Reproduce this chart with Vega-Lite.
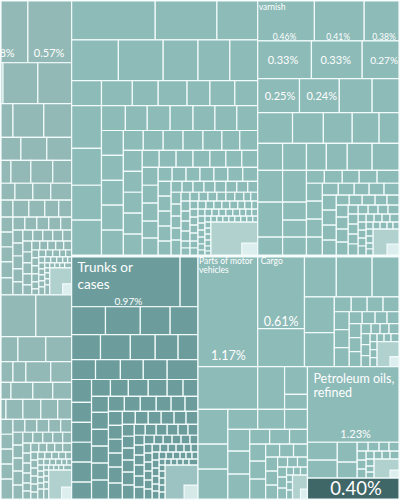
{
"$schema": "https://vega.github.io/schema/vega-lite/v6.json",
"width": 400, "height": 500,
"autosize": {"type": "fit", "contains": "padding"},
"padding": 0,
"background": "#ffffff",
"config": {"view": {"stroke": null}, "text": {"font": "Lato", "color": "#ffffff", "align": "left", "baseline": "middle"}},
"datasets": {
"lab": [
{"x":-17,"y":53,"t":"0.58%","k":"s"},
{"x":33,"y":53,"t":"0.57%","k":"s"},
{"x":259,"y":6,"t":"varnish","k":"xs"},
{"x":273,"y":36,"t":"0.46%","k":"xs"},
{"x":327,"y":36,"t":"0.41%","k":"xs"},
{"x":373,"y":36,"t":"0.38%","k":"xs"},
{"x":268,"y":60,"t":"0.33%","k":"s"},
{"x":321,"y":60,"t":"0.33%","k":"s"},
{"x":371,"y":60,"t":"0.27%","k":"r"},
{"x":265,"y":96,"t":"0.25%","k":"s"},
{"x":307,"y":96,"t":"0.24%","k":"s"},
{"x":77,"y":268,"t":"Trunks or","k":"l"},
{"x":77,"y":285,"t":"cases","k":"l"},
{"x":114,"y":302,"t":"0.97%","k":"r"},
{"x":199,"y":261,"t":"Parts of motor","k":"xs"},
{"x":199,"y":270,"t":"vehicles","k":"xs"},
{"x":261,"y":261,"t":"Cargo","k":"xs"},
{"x":264,"y":322,"t":"0.61%","k":"m"},
{"x":211,"y":356,"t":"1.17%","k":"m"},
{"x":314,"y":380,"t":"Petroleum oils,","k":"m"},
{"x":314,"y":394,"t":"refined","k":"m"},
{"x":341,"y":436,"t":"1.23%","k":"s"},
{"x":331,"y":490,"t":"0.40%","k":"xl"}
]
},
"layer": [
{
"data": {"values": [
{"x0":0,"x1":27,"y0":0,"y1":62,"g":"a"},
{"x0":27,"x1":71,"y0":0,"y1":62,"g":"a"},
{"x0":0,"x1":2,"y0":62,"y1":103,"g":"a"},
{"x0":2,"x1":37,"y0":62,"y1":103,"g":"a"},
{"x0":37,"x1":71,"y0":62,"y1":103,"g":"a"},
{"x0":0,"x1":12,"y0":103,"y1":137,"g":"a"},
{"x0":12,"x1":43,"y0":103,"y1":137,"g":"a"},
{"x0":43,"x1":71,"y0":103,"y1":137,"g":"a"},
{"x0":0,"x1":20,"y0":137,"y1":160,"g":"a"},
{"x0":20,"x1":46,"y0":137,"y1":160,"g":"a"},
{"x0":46,"x1":71,"y0":137,"y1":160,"g":"a"},
{"x0":0,"x1":10,"y0":160,"y1":183,"g":"a"},
{"x0":10,"x1":30,"y0":160,"y1":183,"g":"a"},
{"x0":30,"x1":52,"y0":160,"y1":183,"g":"a"},
{"x0":52,"x1":71,"y0":160,"y1":183,"g":"a"},
{"x0":0,"x1":14,"y0":183,"y1":200,"g":"a"},
{"x0":14,"x1":32,"y0":183,"y1":200,"g":"a"},
{"x0":32,"x1":50,"y0":183,"y1":200,"g":"a"},
{"x0":50,"x1":71,"y0":183,"y1":200,"g":"a"},
{"x0":0,"x1":12,"y0":200,"y1":217,"g":"a"},
{"x0":12,"x1":28,"y0":200,"y1":217,"g":"a"},
{"x0":28,"x1":44,"y0":200,"y1":217,"g":"a"},
{"x0":44,"x1":58,"y0":200,"y1":217,"g":"a"},
{"x0":58,"x1":71,"y0":200,"y1":217,"g":"a"},
{"x0":0,"x1":12,"y0":217,"y1":232,"g":"a"},
{"x0":0,"x1":12,"y0":232,"y1":247,"g":"a"},
{"x0":0,"x1":12,"y0":247,"y1":262,"g":"a"},
{"x0":0,"x1":12,"y0":262,"y1":278,"g":"a"},
{"x0":0,"x1":12,"y0":278,"y1":295,"g":"a"},
{"x0":12,"x1":24,"y0":217,"y1":230,"g":"a"},
{"x0":24,"x1":36,"y0":217,"y1":230,"g":"a"},
{"x0":36,"x1":48,"y0":217,"y1":230,"g":"a"},
{"x0":48,"x1":60,"y0":217,"y1":230,"g":"a"},
{"x0":60,"x1":71,"y0":217,"y1":230,"g":"a"},
{"x0":12,"x1":22,"y0":230,"y1":243,"g":"a"},
{"x0":12,"x1":22,"y0":243,"y1":256,"g":"a"},
{"x0":12,"x1":22,"y0":256,"y1":269,"g":"a"},
{"x0":12,"x1":22,"y0":269,"y1":282,"g":"a"},
{"x0":12,"x1":22,"y0":282,"y1":295,"g":"a"},
{"x0":22,"x1":32,"y0":230,"y1":241,"g":"a"},
{"x0":32,"x1":42,"y0":230,"y1":241,"g":"a"},
{"x0":42,"x1":52,"y0":230,"y1":241,"g":"a"},
{"x0":52,"x1":62,"y0":230,"y1":241,"g":"a"},
{"x0":62,"x1":71,"y0":230,"y1":241,"g":"a"},
{"x0":22,"x1":31,"y0":241,"y1":252,"g":"a"},
{"x0":22,"x1":31,"y0":252,"y1":263,"g":"a"},
{"x0":22,"x1":31,"y0":263,"y1":274,"g":"a"},
{"x0":22,"x1":31,"y0":274,"y1":285,"g":"a"},
{"x0":22,"x1":31,"y0":285,"y1":295,"g":"a"},
{"x0":31,"x1":39,"y0":241,"y1":250,"g":"a"},
{"x0":39,"x1":47,"y0":241,"y1":250,"g":"a"},
{"x0":47,"x1":55,"y0":241,"y1":250,"g":"a"},
{"x0":55,"x1":63,"y0":241,"y1":250,"g":"a"},
{"x0":63,"x1":71,"y0":241,"y1":250,"g":"a"},
{"x0":31,"x1":38,"y0":250,"y1":258,"g":"a"},
{"x0":31,"x1":38,"y0":258,"y1":266,"g":"a"},
{"x0":31,"x1":38,"y0":266,"y1":274,"g":"a"},
{"x0":31,"x1":38,"y0":274,"y1":282,"g":"a"},
{"x0":31,"x1":38,"y0":282,"y1":289,"g":"a"},
{"x0":31,"x1":38,"y0":289,"y1":295,"g":"a"},
{"x0":38,"x1":45,"y0":250,"y1":257,"g":"a"},
{"x0":45,"x1":52,"y0":250,"y1":257,"g":"a"},
{"x0":52,"x1":59,"y0":250,"y1":257,"g":"a"},
{"x0":59,"x1":65,"y0":250,"y1":257,"g":"a"},
{"x0":65,"x1":71,"y0":250,"y1":257,"g":"a"},
{"x0":38,"x1":44,"y0":257,"y1":263,"g":"a"},
{"x0":38,"x1":44,"y0":263,"y1":269,"g":"a"},
{"x0":38,"x1":44,"y0":269,"y1":275,"g":"a"},
{"x0":38,"x1":44,"y0":275,"y1":281,"g":"a"},
{"x0":38,"x1":44,"y0":281,"y1":287,"g":"a"},
{"x0":38,"x1":44,"y0":287,"y1":295,"g":"a"},
{"x0":44,"x1":50,"y0":257,"y1":263,"g":"a"},
{"x0":50,"x1":56,"y0":257,"y1":263,"g":"a"},
{"x0":56,"x1":62,"y0":257,"y1":263,"g":"a"},
{"x0":62,"x1":67,"y0":257,"y1":263,"g":"a"},
{"x0":67,"x1":71,"y0":257,"y1":263,"g":"a"},
{"x0":44,"x1":49,"y0":263,"y1":268,"g":"a"},
{"x0":49,"x1":54,"y0":263,"y1":268,"g":"a"},
{"x0":54,"x1":59,"y0":263,"y1":268,"g":"a"},
{"x0":59,"x1":64,"y0":263,"y1":268,"g":"a"},
{"x0":64,"x1":71,"y0":263,"y1":268,"g":"a"},
{"x0":44,"x1":49,"y0":268,"y1":273,"g":"a"},
{"x0":44,"x1":49,"y0":273,"y1":279,"g":"a"},
{"x0":44,"x1":49,"y0":279,"y1":285,"g":"a"},
{"x0":44,"x1":49,"y0":285,"y1":295,"g":"a"},
{"x0":49,"x1":71,"y0":268,"y1":295,"g":"m1"},
{"x0":62,"x1":71,"y0":284,"y1":295,"g":"m2"},

{"x0":0,"x1":35,"y0":295,"y1":337,"g":"a"},
{"x0":35,"x1":71,"y0":295,"y1":337,"g":"a"},
{"x0":0,"x1":17,"y0":337,"y1":362,"g":"a"},
{"x0":17,"x1":45,"y0":337,"y1":362,"g":"a"},
{"x0":45,"x1":71,"y0":337,"y1":362,"g":"a"},
{"x0":0,"x1":12,"y0":362,"y1":383,"g":"a"},
{"x0":12,"x1":25,"y0":362,"y1":383,"g":"a"},
{"x0":25,"x1":50,"y0":362,"y1":383,"g":"a"},
{"x0":50,"x1":71,"y0":362,"y1":383,"g":"a"},
{"x0":0,"x1":10,"y0":383,"y1":400,"g":"a"},
{"x0":10,"x1":32,"y0":383,"y1":400,"g":"a"},
{"x0":32,"x1":52,"y0":383,"y1":400,"g":"a"},
{"x0":52,"x1":71,"y0":383,"y1":400,"g":"a"},
{"x0":0,"x1":5,"y0":400,"y1":420,"g":"a"},
{"x0":5,"x1":22,"y0":400,"y1":420,"g":"a"},
{"x0":22,"x1":40,"y0":400,"y1":420,"g":"a"},
{"x0":40,"x1":57,"y0":400,"y1":420,"g":"a"},
{"x0":57,"x1":71,"y0":400,"y1":420,"g":"a"},
{"x0":0,"x1":12,"y0":420,"y1":435,"g":"a"},
{"x0":0,"x1":12,"y0":435,"y1":450,"g":"a"},
{"x0":0,"x1":12,"y0":450,"y1":465,"g":"a"},
{"x0":0,"x1":12,"y0":465,"y1":480,"g":"a"},
{"x0":0,"x1":12,"y0":480,"y1":500,"g":"a"},
{"x0":12,"x1":24,"y0":420,"y1":433,"g":"a"},
{"x0":24,"x1":36,"y0":420,"y1":433,"g":"a"},
{"x0":36,"x1":48,"y0":420,"y1":433,"g":"a"},
{"x0":48,"x1":60,"y0":420,"y1":433,"g":"a"},
{"x0":60,"x1":71,"y0":420,"y1":433,"g":"a"},
{"x0":12,"x1":22,"y0":433,"y1":446,"g":"a"},
{"x0":12,"x1":22,"y0":446,"y1":459,"g":"a"},
{"x0":12,"x1":22,"y0":459,"y1":472,"g":"a"},
{"x0":12,"x1":22,"y0":472,"y1":486,"g":"a"},
{"x0":12,"x1":22,"y0":486,"y1":500,"g":"a"},
{"x0":22,"x1":32,"y0":433,"y1":444,"g":"a"},
{"x0":32,"x1":42,"y0":433,"y1":444,"g":"a"},
{"x0":42,"x1":52,"y0":433,"y1":444,"g":"a"},
{"x0":52,"x1":62,"y0":433,"y1":444,"g":"a"},
{"x0":62,"x1":71,"y0":433,"y1":444,"g":"a"},
{"x0":22,"x1":30,"y0":444,"y1":454,"g":"a"},
{"x0":22,"x1":30,"y0":454,"y1":464,"g":"a"},
{"x0":22,"x1":30,"y0":464,"y1":474,"g":"a"},
{"x0":22,"x1":30,"y0":474,"y1":484,"g":"a"},
{"x0":22,"x1":30,"y0":484,"y1":492,"g":"a"},
{"x0":22,"x1":30,"y0":492,"y1":500,"g":"a"},
{"x0":30,"x1":38,"y0":444,"y1":453,"g":"a"},
{"x0":38,"x1":46,"y0":444,"y1":453,"g":"a"},
{"x0":46,"x1":54,"y0":444,"y1":453,"g":"a"},
{"x0":54,"x1":62,"y0":444,"y1":453,"g":"a"},
{"x0":62,"x1":71,"y0":444,"y1":453,"g":"a"},
{"x0":30,"x1":37,"y0":453,"y1":461,"g":"a"},
{"x0":30,"x1":37,"y0":461,"y1":469,"g":"a"},
{"x0":30,"x1":37,"y0":469,"y1":477,"g":"a"},
{"x0":30,"x1":37,"y0":477,"y1":485,"g":"a"},
{"x0":30,"x1":37,"y0":485,"y1":493,"g":"a"},
{"x0":30,"x1":37,"y0":493,"y1":500,"g":"a"},
{"x0":37,"x1":44,"y0":453,"y1":460,"g":"a"},
{"x0":44,"x1":51,"y0":453,"y1":460,"g":"a"},
{"x0":51,"x1":58,"y0":453,"y1":460,"g":"a"},
{"x0":58,"x1":65,"y0":453,"y1":460,"g":"a"},
{"x0":65,"x1":71,"y0":453,"y1":460,"g":"a"},
{"x0":37,"x1":43,"y0":460,"y1":466,"g":"a"},
{"x0":37,"x1":43,"y0":466,"y1":472,"g":"a"},
{"x0":37,"x1":43,"y0":472,"y1":478,"g":"a"},
{"x0":37,"x1":43,"y0":478,"y1":484,"g":"a"},
{"x0":37,"x1":43,"y0":484,"y1":490,"g":"a"},
{"x0":37,"x1":43,"y0":490,"y1":500,"g":"a"},
{"x0":43,"x1":49,"y0":460,"y1":466,"g":"a"},
{"x0":49,"x1":55,"y0":460,"y1":466,"g":"a"},
{"x0":55,"x1":61,"y0":460,"y1":466,"g":"a"},
{"x0":61,"x1":66,"y0":460,"y1":466,"g":"a"},
{"x0":66,"x1":71,"y0":460,"y1":466,"g":"a"},
{"x0":43,"x1":48,"y0":466,"y1":471,"g":"a"},
{"x0":48,"x1":53,"y0":466,"y1":471,"g":"a"},
{"x0":53,"x1":58,"y0":466,"y1":471,"g":"a"},
{"x0":58,"x1":63,"y0":466,"y1":471,"g":"a"},
{"x0":63,"x1":71,"y0":466,"y1":471,"g":"a"},
{"x0":43,"x1":48,"y0":471,"y1":477,"g":"a"},
{"x0":43,"x1":48,"y0":477,"y1":483,"g":"a"},
{"x0":43,"x1":48,"y0":483,"y1":490,"g":"a"},
{"x0":43,"x1":48,"y0":490,"y1":500,"g":"a"},
{"x0":48,"x1":71,"y0":471,"y1":500,"g":"m1"},
{"x0":61,"x1":71,"y0":488,"y1":500,"g":"m2"},

{"x0":71,"x1":155,"y0":0,"y1":39,"g":"b"},
{"x0":155,"x1":217,"y0":0,"y1":39,"g":"b"},
{"x0":217,"x1":258,"y0":0,"y1":39,"g":"b"},
{"x0":71,"x1":118,"y0":39,"y1":80,"g":"b"},
{"x0":118,"x1":163,"y0":39,"y1":80,"g":"b"},
{"x0":163,"x1":198,"y0":39,"y1":80,"g":"b"},
{"x0":198,"x1":230,"y0":39,"y1":80,"g":"b"},
{"x0":230,"x1":258,"y0":39,"y1":80,"g":"b"},
{"x0":71,"x1":101,"y0":80,"y1":105,"g":"b"},
{"x0":101,"x1":132,"y0":80,"y1":105,"g":"b"},
{"x0":132,"x1":158,"y0":80,"y1":105,"g":"b"},
{"x0":158,"x1":187,"y0":80,"y1":105,"g":"b"},
{"x0":187,"x1":210,"y0":80,"y1":105,"g":"b"},
{"x0":210,"x1":235,"y0":80,"y1":105,"g":"b"},
{"x0":235,"x1":258,"y0":80,"y1":105,"g":"b"},
{"x0":71,"x1":101,"y0":105,"y1":148,"g":"b"},
{"x0":71,"x1":101,"y0":148,"y1":185,"g":"b"},
{"x0":71,"x1":101,"y0":185,"y1":220,"g":"b"},
{"x0":71,"x1":101,"y0":220,"y1":255,"g":"b"},
{"x0":101,"x1":125,"y0":105,"y1":130,"g":"b"},
{"x0":125,"x1":147,"y0":105,"y1":130,"g":"b"},
{"x0":147,"x1":170,"y0":105,"y1":130,"g":"b"},
{"x0":170,"x1":193,"y0":105,"y1":130,"g":"b"},
{"x0":193,"x1":215,"y0":105,"y1":130,"g":"b"},
{"x0":215,"x1":237,"y0":105,"y1":130,"g":"b"},
{"x0":237,"x1":258,"y0":105,"y1":130,"g":"b"},
{"x0":101,"x1":123,"y0":130,"y1":155,"g":"b"},
{"x0":101,"x1":123,"y0":155,"y1":180,"g":"b"},
{"x0":101,"x1":123,"y0":180,"y1":205,"g":"b"},
{"x0":101,"x1":123,"y0":205,"y1":230,"g":"b"},
{"x0":101,"x1":123,"y0":230,"y1":255,"g":"b"},
{"x0":123,"x1":143,"y0":130,"y1":150,"g":"b"},
{"x0":143,"x1":163,"y0":130,"y1":150,"g":"b"},
{"x0":163,"x1":183,"y0":130,"y1":150,"g":"b"},
{"x0":183,"x1":203,"y0":130,"y1":150,"g":"b"},
{"x0":203,"x1":222,"y0":130,"y1":150,"g":"b"},
{"x0":222,"x1":240,"y0":130,"y1":150,"g":"b"},
{"x0":240,"x1":258,"y0":130,"y1":150,"g":"b"},
{"x0":123,"x1":142,"y0":150,"y1":171,"g":"b"},
{"x0":123,"x1":142,"y0":171,"y1":192,"g":"b"},
{"x0":123,"x1":142,"y0":192,"y1":213,"g":"b"},
{"x0":123,"x1":142,"y0":213,"y1":234,"g":"b"},
{"x0":123,"x1":142,"y0":234,"y1":255,"g":"b"},
{"x0":142,"x1":159,"y0":150,"y1":167,"g":"b"},
{"x0":159,"x1":176,"y0":150,"y1":167,"g":"b"},
{"x0":176,"x1":193,"y0":150,"y1":167,"g":"b"},
{"x0":193,"x1":210,"y0":150,"y1":167,"g":"b"},
{"x0":210,"x1":226,"y0":150,"y1":167,"g":"b"},
{"x0":226,"x1":242,"y0":150,"y1":167,"g":"b"},
{"x0":242,"x1":258,"y0":150,"y1":167,"g":"b"},
{"x0":142,"x1":158,"y0":167,"y1":185,"g":"b"},
{"x0":142,"x1":158,"y0":185,"y1":203,"g":"b"},
{"x0":142,"x1":158,"y0":203,"y1":221,"g":"b"},
{"x0":142,"x1":158,"y0":221,"y1":238,"g":"b"},
{"x0":142,"x1":158,"y0":238,"y1":255,"g":"b"},
{"x0":158,"x1":172,"y0":167,"y1":181,"g":"b"},
{"x0":172,"x1":186,"y0":167,"y1":181,"g":"b"},
{"x0":186,"x1":200,"y0":167,"y1":181,"g":"b"},
{"x0":200,"x1":214,"y0":167,"y1":181,"g":"b"},
{"x0":214,"x1":228,"y0":167,"y1":181,"g":"b"},
{"x0":228,"x1":243,"y0":167,"y1":181,"g":"b"},
{"x0":243,"x1":258,"y0":167,"y1":181,"g":"b"},
{"x0":158,"x1":171,"y0":181,"y1":196,"g":"b"},
{"x0":158,"x1":171,"y0":196,"y1":211,"g":"b"},
{"x0":158,"x1":171,"y0":211,"y1":226,"g":"b"},
{"x0":158,"x1":171,"y0":226,"y1":241,"g":"b"},
{"x0":158,"x1":171,"y0":241,"y1":255,"g":"b"},
{"x0":171,"x1":182,"y0":181,"y1":192,"g":"b"},
{"x0":182,"x1":193,"y0":181,"y1":192,"g":"b"},
{"x0":193,"x1":204,"y0":181,"y1":192,"g":"b"},
{"x0":204,"x1":215,"y0":181,"y1":192,"g":"b"},
{"x0":215,"x1":226,"y0":181,"y1":192,"g":"b"},
{"x0":226,"x1":237,"y0":181,"y1":192,"g":"b"},
{"x0":237,"x1":248,"y0":181,"y1":192,"g":"b"},
{"x0":248,"x1":258,"y0":181,"y1":192,"g":"b"},
{"x0":171,"x1":181,"y0":192,"y1":204,"g":"b"},
{"x0":171,"x1":181,"y0":204,"y1":216,"g":"b"},
{"x0":171,"x1":181,"y0":216,"y1":228,"g":"b"},
{"x0":171,"x1":181,"y0":228,"y1":240,"g":"b"},
{"x0":171,"x1":181,"y0":240,"y1":255,"g":"b"},
{"x0":181,"x1":190,"y0":192,"y1":201,"g":"b"},
{"x0":190,"x1":199,"y0":192,"y1":201,"g":"b"},
{"x0":199,"x1":208,"y0":192,"y1":201,"g":"b"},
{"x0":208,"x1":217,"y0":192,"y1":201,"g":"b"},
{"x0":217,"x1":226,"y0":192,"y1":201,"g":"b"},
{"x0":226,"x1":235,"y0":192,"y1":201,"g":"b"},
{"x0":235,"x1":244,"y0":192,"y1":201,"g":"b"},
{"x0":244,"x1":251,"y0":192,"y1":201,"g":"b"},
{"x0":251,"x1":258,"y0":192,"y1":201,"g":"b"},
{"x0":181,"x1":190,"y0":201,"y1":211,"g":"b"},
{"x0":181,"x1":190,"y0":211,"y1":221,"g":"b"},
{"x0":181,"x1":190,"y0":221,"y1":231,"g":"b"},
{"x0":181,"x1":190,"y0":231,"y1":241,"g":"b"},
{"x0":181,"x1":190,"y0":241,"y1":248,"g":"b"},
{"x0":181,"x1":190,"y0":248,"y1":255,"g":"b"},
{"x0":190,"x1":198,"y0":201,"y1":209,"g":"b"},
{"x0":198,"x1":206,"y0":201,"y1":209,"g":"b"},
{"x0":206,"x1":214,"y0":201,"y1":209,"g":"b"},
{"x0":214,"x1":222,"y0":201,"y1":209,"g":"b"},
{"x0":222,"x1":230,"y0":201,"y1":209,"g":"b"},
{"x0":230,"x1":238,"y0":201,"y1":209,"g":"b"},
{"x0":238,"x1":245,"y0":201,"y1":209,"g":"b"},
{"x0":245,"x1":252,"y0":201,"y1":209,"g":"b"},
{"x0":252,"x1":258,"y0":201,"y1":209,"g":"b"},
{"x0":190,"x1":198,"y0":209,"y1":217,"g":"b"},
{"x0":190,"x1":198,"y0":217,"y1":225,"g":"b"},
{"x0":190,"x1":198,"y0":225,"y1":233,"g":"b"},
{"x0":190,"x1":198,"y0":233,"y1":241,"g":"b"},
{"x0":190,"x1":198,"y0":241,"y1":248,"g":"b"},
{"x0":190,"x1":198,"y0":248,"y1":255,"g":"b"},
{"x0":198,"x1":205,"y0":209,"y1":216,"g":"b"},
{"x0":205,"x1":212,"y0":209,"y1":216,"g":"b"},
{"x0":212,"x1":219,"y0":209,"y1":216,"g":"b"},
{"x0":219,"x1":226,"y0":209,"y1":216,"g":"b"},
{"x0":226,"x1":233,"y0":209,"y1":216,"g":"b"},
{"x0":233,"x1":240,"y0":209,"y1":216,"g":"b"},
{"x0":240,"x1":246,"y0":209,"y1":216,"g":"b"},
{"x0":246,"x1":252,"y0":209,"y1":216,"g":"b"},
{"x0":252,"x1":258,"y0":209,"y1":216,"g":"b"},
{"x0":198,"x1":205,"y0":216,"y1":223,"g":"b"},
{"x0":198,"x1":205,"y0":223,"y1":230,"g":"b"},
{"x0":198,"x1":205,"y0":230,"y1":237,"g":"b"},
{"x0":198,"x1":205,"y0":237,"y1":244,"g":"b"},
{"x0":198,"x1":205,"y0":244,"y1":250,"g":"b"},
{"x0":198,"x1":205,"y0":250,"y1":255,"g":"b"},
{"x0":205,"x1":211,"y0":216,"y1":222,"g":"b"},
{"x0":211,"x1":217,"y0":216,"y1":222,"g":"b"},
{"x0":217,"x1":223,"y0":216,"y1":222,"g":"b"},
{"x0":223,"x1":229,"y0":216,"y1":222,"g":"b"},
{"x0":229,"x1":235,"y0":216,"y1":222,"g":"b"},
{"x0":235,"x1":241,"y0":216,"y1":222,"g":"b"},
{"x0":241,"x1":247,"y0":216,"y1":222,"g":"b"},
{"x0":247,"x1":253,"y0":216,"y1":222,"g":"b"},
{"x0":253,"x1":258,"y0":216,"y1":222,"g":"b"},
{"x0":205,"x1":211,"y0":222,"y1":228,"g":"b"},
{"x0":205,"x1":211,"y0":228,"y1":234,"g":"b"},
{"x0":205,"x1":211,"y0":234,"y1":240,"g":"b"},
{"x0":205,"x1":211,"y0":240,"y1":246,"g":"b"},
{"x0":205,"x1":211,"y0":246,"y1":251,"g":"b"},
{"x0":205,"x1":211,"y0":251,"y1":255,"g":"b"},
{"x0":211,"x1":258,"y0":222,"y1":255,"g":"m1"},
{"x0":242,"x1":258,"y0":243,"y1":255,"g":"m2"},

{"x0":258,"x1":315,"y0":0,"y1":40,"g":"b"},
{"x0":315,"x1":365,"y0":0,"y1":40,"g":"b"},
{"x0":365,"x1":400,"y0":0,"y1":40,"g":"b"},
{"x0":258,"x1":312,"y0":40,"y1":78,"g":"b"},
{"x0":312,"x1":363,"y0":40,"y1":78,"g":"b"},
{"x0":363,"x1":400,"y0":40,"y1":78,"g":"b"},
{"x0":258,"x1":300,"y0":78,"y1":112,"g":"b"},
{"x0":300,"x1":340,"y0":78,"y1":112,"g":"b"},
{"x0":340,"x1":373,"y0":78,"y1":112,"g":"b"},
{"x0":373,"x1":400,"y0":78,"y1":112,"g":"b"},
{"x0":258,"x1":293,"y0":112,"y1":143,"g":"b"},
{"x0":293,"x1":324,"y0":112,"y1":143,"g":"b"},
{"x0":324,"x1":353,"y0":112,"y1":143,"g":"b"},
{"x0":353,"x1":380,"y0":112,"y1":143,"g":"b"},
{"x0":380,"x1":400,"y0":112,"y1":143,"g":"b"},
{"x0":258,"x1":283,"y0":143,"y1":170,"g":"b"},
{"x0":283,"x1":307,"y0":143,"y1":170,"g":"b"},
{"x0":307,"x1":327,"y0":143,"y1":170,"g":"b"},
{"x0":327,"x1":348,"y0":143,"y1":170,"g":"b"},
{"x0":348,"x1":373,"y0":143,"y1":170,"g":"b"},
{"x0":373,"x1":400,"y0":143,"y1":170,"g":"b"},
{"x0":258,"x1":283,"y0":170,"y1":202,"g":"b"},
{"x0":283,"x1":307,"y0":170,"y1":202,"g":"b"},
{"x0":258,"x1":283,"y0":202,"y1":237,"g":"b"},
{"x0":283,"x1":307,"y0":202,"y1":220,"g":"b"},
{"x0":283,"x1":307,"y0":220,"y1":237,"g":"b"},
{"x0":258,"x1":283,"y0":237,"y1":255,"g":"b"},
{"x0":283,"x1":307,"y0":237,"y1":255,"g":"b"},
{"x0":307,"x1":325,"y0":170,"y1":183,"g":"b"},
{"x0":325,"x1":343,"y0":170,"y1":183,"g":"b"},
{"x0":343,"x1":360,"y0":170,"y1":183,"g":"b"},
{"x0":360,"x1":378,"y0":170,"y1":183,"g":"b"},
{"x0":378,"x1":400,"y0":170,"y1":183,"g":"b"},
{"x0":307,"x1":323,"y0":183,"y1":201,"g":"b"},
{"x0":307,"x1":323,"y0":201,"y1":219,"g":"b"},
{"x0":307,"x1":323,"y0":219,"y1":237,"g":"b"},
{"x0":307,"x1":323,"y0":237,"y1":255,"g":"b"},
{"x0":323,"x1":339,"y0":183,"y1":195,"g":"b"},
{"x0":339,"x1":355,"y0":183,"y1":195,"g":"b"},
{"x0":355,"x1":370,"y0":183,"y1":195,"g":"b"},
{"x0":370,"x1":385,"y0":183,"y1":195,"g":"b"},
{"x0":385,"x1":400,"y0":183,"y1":195,"g":"b"},
{"x0":323,"x1":337,"y0":195,"y1":210,"g":"b"},
{"x0":323,"x1":337,"y0":210,"y1":225,"g":"b"},
{"x0":323,"x1":337,"y0":225,"y1":240,"g":"b"},
{"x0":323,"x1":337,"y0":240,"y1":255,"g":"b"},
{"x0":337,"x1":350,"y0":195,"y1":205,"g":"b"},
{"x0":350,"x1":363,"y0":195,"y1":205,"g":"b"},
{"x0":363,"x1":376,"y0":195,"y1":205,"g":"b"},
{"x0":376,"x1":388,"y0":195,"y1":205,"g":"b"},
{"x0":388,"x1":400,"y0":195,"y1":205,"g":"b"},
{"x0":337,"x1":349,"y0":205,"y1":217,"g":"b"},
{"x0":337,"x1":349,"y0":217,"y1":229,"g":"b"},
{"x0":337,"x1":349,"y0":229,"y1":242,"g":"b"},
{"x0":337,"x1":349,"y0":242,"y1":255,"g":"b"},
{"x0":349,"x1":359,"y0":205,"y1":214,"g":"b"},
{"x0":359,"x1":369,"y0":205,"y1":214,"g":"b"},
{"x0":369,"x1":379,"y0":205,"y1":214,"g":"b"},
{"x0":379,"x1":389,"y0":205,"y1":214,"g":"b"},
{"x0":389,"x1":400,"y0":205,"y1":214,"g":"b"},
{"x0":349,"x1":359,"y0":214,"y1":224,"g":"b"},
{"x0":349,"x1":359,"y0":224,"y1":234,"g":"b"},
{"x0":349,"x1":359,"y0":234,"y1":244,"g":"b"},
{"x0":349,"x1":359,"y0":244,"y1":255,"g":"b"},
{"x0":359,"x1":367,"y0":214,"y1":222,"g":"b"},
{"x0":367,"x1":375,"y0":214,"y1":222,"g":"b"},
{"x0":375,"x1":383,"y0":214,"y1":222,"g":"b"},
{"x0":383,"x1":391,"y0":214,"y1":222,"g":"b"},
{"x0":391,"x1":400,"y0":214,"y1":222,"g":"b"},
{"x0":359,"x1":367,"y0":222,"y1":230,"g":"b"},
{"x0":359,"x1":367,"y0":230,"y1":238,"g":"b"},
{"x0":359,"x1":367,"y0":238,"y1":246,"g":"b"},
{"x0":359,"x1":367,"y0":246,"y1":255,"g":"b"},
{"x0":367,"x1":374,"y0":222,"y1":229,"g":"b"},
{"x0":374,"x1":381,"y0":222,"y1":229,"g":"b"},
{"x0":381,"x1":388,"y0":222,"y1":229,"g":"b"},
{"x0":388,"x1":394,"y0":222,"y1":229,"g":"b"},
{"x0":394,"x1":400,"y0":222,"y1":229,"g":"b"},
{"x0":367,"x1":374,"y0":229,"y1":236,"g":"b"},
{"x0":367,"x1":374,"y0":236,"y1":243,"g":"b"},
{"x0":367,"x1":374,"y0":243,"y1":249,"g":"b"},
{"x0":367,"x1":374,"y0":249,"y1":255,"g":"b"},
{"x0":374,"x1":400,"y0":229,"y1":255,"g":"m1"},
{"x0":388,"x1":400,"y0":244,"y1":255,"g":"m2"},

{"x0":71,"x1":180,"y0":257,"y1":307,"g":"t"},
{"x0":180,"x1":198,"y0":257,"y1":307,"g":"t"},
{"x0":71,"x1":105,"y0":307,"y1":335,"g":"t"},
{"x0":105,"x1":140,"y0":307,"y1":335,"g":"t"},
{"x0":140,"x1":170,"y0":307,"y1":335,"g":"t"},
{"x0":170,"x1":198,"y0":307,"y1":335,"g":"t"},
{"x0":71,"x1":100,"y0":335,"y1":360,"g":"t"},
{"x0":100,"x1":130,"y0":335,"y1":360,"g":"t"},
{"x0":130,"x1":155,"y0":335,"y1":360,"g":"t"},
{"x0":155,"x1":178,"y0":335,"y1":360,"g":"t"},
{"x0":178,"x1":198,"y0":335,"y1":360,"g":"t"},
{"x0":71,"x1":95,"y0":360,"y1":380,"g":"t"},
{"x0":95,"x1":120,"y0":360,"y1":380,"g":"t"},
{"x0":120,"x1":143,"y0":360,"y1":380,"g":"t"},
{"x0":143,"x1":167,"y0":360,"y1":380,"g":"t"},
{"x0":167,"x1":198,"y0":360,"y1":380,"g":"t"},
{"x0":71,"x1":91,"y0":380,"y1":403,"g":"t"},
{"x0":71,"x1":91,"y0":403,"y1":423,"g":"t"},
{"x0":71,"x1":91,"y0":423,"y1":443,"g":"t"},
{"x0":71,"x1":91,"y0":443,"y1":463,"g":"t"},
{"x0":71,"x1":91,"y0":463,"y1":483,"g":"t"},
{"x0":71,"x1":91,"y0":483,"y1":500,"g":"t"},
{"x0":91,"x1":110,"y0":380,"y1":397,"g":"t"},
{"x0":110,"x1":128,"y0":380,"y1":397,"g":"t"},
{"x0":128,"x1":148,"y0":380,"y1":397,"g":"t"},
{"x0":148,"x1":167,"y0":380,"y1":397,"g":"t"},
{"x0":167,"x1":183,"y0":380,"y1":397,"g":"t"},
{"x0":183,"x1":198,"y0":380,"y1":397,"g":"t"},
{"x0":91,"x1":108,"y0":397,"y1":413,"g":"t"},
{"x0":91,"x1":108,"y0":413,"y1":430,"g":"t"},
{"x0":91,"x1":108,"y0":430,"y1":447,"g":"t"},
{"x0":91,"x1":108,"y0":447,"y1":464,"g":"t"},
{"x0":91,"x1":108,"y0":464,"y1":481,"g":"t"},
{"x0":91,"x1":108,"y0":481,"y1":500,"g":"t"},
{"x0":108,"x1":124,"y0":397,"y1":412,"g":"t"},
{"x0":124,"x1":140,"y0":397,"y1":412,"g":"t"},
{"x0":140,"x1":156,"y0":397,"y1":412,"g":"t"},
{"x0":156,"x1":171,"y0":397,"y1":412,"g":"t"},
{"x0":171,"x1":185,"y0":397,"y1":412,"g":"t"},
{"x0":185,"x1":198,"y0":397,"y1":412,"g":"t"},
{"x0":108,"x1":122,"y0":412,"y1":426,"g":"t"},
{"x0":108,"x1":122,"y0":426,"y1":440,"g":"t"},
{"x0":108,"x1":122,"y0":440,"y1":454,"g":"t"},
{"x0":108,"x1":122,"y0":454,"y1":468,"g":"t"},
{"x0":108,"x1":122,"y0":468,"y1":484,"g":"t"},
{"x0":108,"x1":122,"y0":484,"y1":500,"g":"t"},
{"x0":122,"x1":135,"y0":412,"y1":425,"g":"t"},
{"x0":135,"x1":148,"y0":412,"y1":425,"g":"t"},
{"x0":148,"x1":161,"y0":412,"y1":425,"g":"t"},
{"x0":161,"x1":174,"y0":412,"y1":425,"g":"t"},
{"x0":174,"x1":186,"y0":412,"y1":425,"g":"t"},
{"x0":186,"x1":198,"y0":412,"y1":425,"g":"t"},
{"x0":122,"x1":134,"y0":425,"y1":437,"g":"t"},
{"x0":122,"x1":134,"y0":437,"y1":449,"g":"t"},
{"x0":122,"x1":134,"y0":449,"y1":461,"g":"t"},
{"x0":122,"x1":134,"y0":461,"y1":473,"g":"t"},
{"x0":122,"x1":134,"y0":473,"y1":486,"g":"t"},
{"x0":122,"x1":134,"y0":486,"y1":500,"g":"t"},
{"x0":134,"x1":145,"y0":425,"y1":436,"g":"t"},
{"x0":145,"x1":156,"y0":425,"y1":436,"g":"t"},
{"x0":156,"x1":167,"y0":425,"y1":436,"g":"t"},
{"x0":167,"x1":178,"y0":425,"y1":436,"g":"t"},
{"x0":178,"x1":188,"y0":425,"y1":436,"g":"t"},
{"x0":188,"x1":198,"y0":425,"y1":436,"g":"t"},
{"x0":134,"x1":144,"y0":436,"y1":446,"g":"t"},
{"x0":134,"x1":144,"y0":446,"y1":456,"g":"t"},
{"x0":134,"x1":144,"y0":456,"y1":466,"g":"t"},
{"x0":134,"x1":144,"y0":466,"y1":477,"g":"t"},
{"x0":134,"x1":144,"y0":477,"y1":488,"g":"t"},
{"x0":134,"x1":144,"y0":488,"y1":500,"g":"t"},
{"x0":144,"x1":154,"y0":436,"y1":445,"g":"t"},
{"x0":154,"x1":163,"y0":436,"y1":445,"g":"t"},
{"x0":163,"x1":172,"y0":436,"y1":445,"g":"t"},
{"x0":172,"x1":181,"y0":436,"y1":445,"g":"t"},
{"x0":181,"x1":190,"y0":436,"y1":445,"g":"t"},
{"x0":190,"x1":198,"y0":436,"y1":445,"g":"t"},
{"x0":144,"x1":152,"y0":445,"y1":454,"g":"t"},
{"x0":144,"x1":152,"y0":454,"y1":463,"g":"t"},
{"x0":144,"x1":152,"y0":463,"y1":472,"g":"t"},
{"x0":144,"x1":152,"y0":472,"y1":481,"g":"t"},
{"x0":144,"x1":152,"y0":481,"y1":490,"g":"t"},
{"x0":144,"x1":152,"y0":490,"y1":500,"g":"t"},
{"x0":152,"x1":160,"y0":445,"y1":453,"g":"t"},
{"x0":160,"x1":168,"y0":445,"y1":453,"g":"t"},
{"x0":168,"x1":176,"y0":445,"y1":453,"g":"t"},
{"x0":176,"x1":184,"y0":445,"y1":453,"g":"t"},
{"x0":184,"x1":191,"y0":445,"y1":453,"g":"t"},
{"x0":191,"x1":198,"y0":445,"y1":453,"g":"t"},
{"x0":152,"x1":159,"y0":453,"y1":461,"g":"t"},
{"x0":152,"x1":159,"y0":461,"y1":469,"g":"t"},
{"x0":152,"x1":159,"y0":469,"y1":477,"g":"t"},
{"x0":152,"x1":159,"y0":477,"y1":485,"g":"t"},
{"x0":152,"x1":159,"y0":485,"y1":492,"g":"t"},
{"x0":152,"x1":159,"y0":492,"y1":500,"g":"t"},
{"x0":159,"x1":166,"y0":453,"y1":460,"g":"t"},
{"x0":166,"x1":173,"y0":453,"y1":460,"g":"t"},
{"x0":173,"x1":180,"y0":453,"y1":460,"g":"t"},
{"x0":180,"x1":186,"y0":453,"y1":460,"g":"t"},
{"x0":186,"x1":192,"y0":453,"y1":460,"g":"t"},
{"x0":192,"x1":198,"y0":453,"y1":460,"g":"t"},
{"x0":159,"x1":165,"y0":460,"y1":466,"g":"t"},
{"x0":165,"x1":171,"y0":460,"y1":466,"g":"t"},
{"x0":171,"x1":177,"y0":460,"y1":466,"g":"t"},
{"x0":177,"x1":183,"y0":460,"y1":466,"g":"t"},
{"x0":183,"x1":189,"y0":460,"y1":466,"g":"t"},
{"x0":189,"x1":198,"y0":460,"y1":466,"g":"t"},
{"x0":159,"x1":165,"y0":466,"y1":472,"g":"t"},
{"x0":159,"x1":165,"y0":472,"y1":479,"g":"t"},
{"x0":159,"x1":165,"y0":479,"y1":486,"g":"t"},
{"x0":159,"x1":165,"y0":486,"y1":493,"g":"t"},
{"x0":159,"x1":165,"y0":493,"y1":500,"g":"t"},
{"x0":165,"x1":198,"y0":466,"y1":500,"g":"n1"},
{"x0":184,"x1":198,"y0":486,"y1":500,"g":"n2"},

{"x0":198,"x1":258,"y0":257,"y1":367,"g":"b"},
{"x0":258,"x1":305,"y0":257,"y1":329,"g":"b"},
{"x0":258,"x1":305,"y0":329,"y1":367,"g":"b"},
{"x0":305,"x1":337,"y0":257,"y1":297,"g":"b"},
{"x0":337,"x1":373,"y0":257,"y1":297,"g":"b"},
{"x0":373,"x1":400,"y0":257,"y1":297,"g":"b"},
{"x0":305,"x1":335,"y0":297,"y1":333,"g":"b"},
{"x0":305,"x1":335,"y0":333,"y1":367,"g":"b"},
{"x0":335,"x1":352,"y0":297,"y1":312,"g":"b"},
{"x0":352,"x1":368,"y0":297,"y1":312,"g":"b"},
{"x0":368,"x1":384,"y0":297,"y1":312,"g":"b"},
{"x0":384,"x1":400,"y0":297,"y1":312,"g":"b"},
{"x0":335,"x1":350,"y0":312,"y1":330,"g":"b"},
{"x0":335,"x1":350,"y0":330,"y1":348,"g":"b"},
{"x0":335,"x1":350,"y0":348,"y1":367,"g":"b"},
{"x0":350,"x1":363,"y0":312,"y1":324,"g":"b"},
{"x0":363,"x1":376,"y0":312,"y1":324,"g":"b"},
{"x0":376,"x1":388,"y0":312,"y1":324,"g":"b"},
{"x0":388,"x1":400,"y0":312,"y1":324,"g":"b"},
{"x0":350,"x1":362,"y0":324,"y1":338,"g":"b"},
{"x0":350,"x1":362,"y0":338,"y1":352,"g":"b"},
{"x0":350,"x1":362,"y0":352,"y1":367,"g":"b"},
{"x0":362,"x1":372,"y0":324,"y1":334,"g":"b"},
{"x0":372,"x1":381,"y0":324,"y1":334,"g":"b"},
{"x0":381,"x1":390,"y0":324,"y1":334,"g":"b"},
{"x0":390,"x1":400,"y0":324,"y1":334,"g":"b"},
{"x0":362,"x1":371,"y0":334,"y1":345,"g":"b"},
{"x0":362,"x1":371,"y0":345,"y1":356,"g":"b"},
{"x0":362,"x1":371,"y0":356,"y1":367,"g":"b"},
{"x0":371,"x1":378,"y0":334,"y1":342,"g":"b"},
{"x0":378,"x1":385,"y0":334,"y1":342,"g":"b"},
{"x0":385,"x1":392,"y0":334,"y1":342,"g":"b"},
{"x0":392,"x1":400,"y0":334,"y1":342,"g":"b"},
{"x0":371,"x1":378,"y0":342,"y1":350,"g":"b"},
{"x0":371,"x1":378,"y0":350,"y1":358,"g":"b"},
{"x0":371,"x1":378,"y0":358,"y1":367,"g":"b"},
{"x0":378,"x1":400,"y0":342,"y1":367,"g":"m1"},
{"x0":391,"x1":400,"y0":357,"y1":367,"g":"m2"},

{"x0":198,"x1":258,"y0":367,"y1":410,"g":"b"},
{"x0":258,"x1":285,"y0":367,"y1":410,"g":"b"},
{"x0":285,"x1":308,"y0":367,"y1":395,"g":"b"},
{"x0":285,"x1":308,"y0":395,"y1":410,"g":"b"},
{"x0":198,"x1":228,"y0":410,"y1":445,"g":"b"},
{"x0":228,"x1":258,"y0":410,"y1":430,"g":"b"},
{"x0":258,"x1":285,"y0":410,"y1":430,"g":"b"},
{"x0":285,"x1":308,"y0":410,"y1":430,"g":"b"},
{"x0":198,"x1":228,"y0":445,"y1":470,"g":"b"},
{"x0":198,"x1":228,"y0":470,"y1":500,"g":"b"},
{"x0":228,"x1":250,"y0":430,"y1":452,"g":"b"},
{"x0":228,"x1":250,"y0":452,"y1":475,"g":"b"},
{"x0":228,"x1":250,"y0":475,"y1":500,"g":"b"},
{"x0":250,"x1":270,"y0":430,"y1":445,"g":"b"},
{"x0":270,"x1":290,"y0":430,"y1":445,"g":"b"},
{"x0":290,"x1":308,"y0":430,"y1":445,"g":"b"},
{"x0":250,"x1":266,"y0":445,"y1":462,"g":"b"},
{"x0":250,"x1":266,"y0":462,"y1":480,"g":"b"},
{"x0":250,"x1":266,"y0":480,"y1":500,"g":"b"},
{"x0":266,"x1":280,"y0":445,"y1":458,"g":"b"},
{"x0":280,"x1":294,"y0":445,"y1":458,"g":"b"},
{"x0":294,"x1":308,"y0":445,"y1":458,"g":"b"},
{"x0":266,"x1":278,"y0":458,"y1":472,"g":"b"},
{"x0":266,"x1":278,"y0":472,"y1":486,"g":"b"},
{"x0":266,"x1":278,"y0":486,"y1":500,"g":"b"},
{"x0":278,"x1":288,"y0":458,"y1":468,"g":"b"},
{"x0":288,"x1":298,"y0":458,"y1":468,"g":"b"},
{"x0":298,"x1":308,"y0":458,"y1":468,"g":"b"},
{"x0":278,"x1":287,"y0":468,"y1":478,"g":"b"},
{"x0":278,"x1":287,"y0":478,"y1":489,"g":"b"},
{"x0":278,"x1":287,"y0":489,"y1":500,"g":"b"},
{"x0":287,"x1":294,"y0":468,"y1":476,"g":"b"},
{"x0":294,"x1":301,"y0":468,"y1":476,"g":"b"},
{"x0":301,"x1":308,"y0":468,"y1":476,"g":"b"},
{"x0":287,"x1":293,"y0":476,"y1":483,"g":"b"},
{"x0":287,"x1":293,"y0":483,"y1":491,"g":"b"},
{"x0":287,"x1":293,"y0":491,"y1":500,"g":"b"},
{"x0":293,"x1":308,"y0":476,"y1":500,"g":"m1"},
{"x0":301,"x1":308,"y0":490,"y1":500,"g":"m2"},

{"x0":308,"x1":400,"y0":367,"y1":443,"g":"b"},
{"x0":308,"x1":338,"y0":443,"y1":461,"g":"b"},
{"x0":308,"x1":338,"y0":461,"y1":479,"g":"b"},
{"x0":338,"x1":358,"y0":443,"y1":463,"g":"b"},
{"x0":338,"x1":358,"y0":463,"y1":479,"g":"b"},
{"x0":358,"x1":369,"y0":443,"y1":452,"g":"b"},
{"x0":369,"x1":380,"y0":443,"y1":452,"g":"b"},
{"x0":380,"x1":390,"y0":443,"y1":452,"g":"b"},
{"x0":390,"x1":400,"y0":443,"y1":452,"g":"b"},
{"x0":358,"x1":367,"y0":452,"y1":461,"g":"b"},
{"x0":358,"x1":367,"y0":461,"y1":470,"g":"b"},
{"x0":358,"x1":367,"y0":470,"y1":479,"g":"b"},
{"x0":367,"x1":375,"y0":452,"y1":460,"g":"b"},
{"x0":375,"x1":383,"y0":452,"y1":460,"g":"b"},
{"x0":383,"x1":391,"y0":452,"y1":460,"g":"b"},
{"x0":391,"x1":400,"y0":452,"y1":460,"g":"b"},
{"x0":367,"x1":375,"y0":460,"y1":467,"g":"b"},
{"x0":367,"x1":375,"y0":467,"y1":473,"g":"b"},
{"x0":367,"x1":375,"y0":473,"y1":479,"g":"b"},
{"x0":375,"x1":400,"y0":460,"y1":479,"g":"m1"},
{"x0":391,"x1":400,"y0":471,"y1":479,"g":"m2"},
{"x0":308,"x1":400,"y0":479,"y1":500,"g":"d"}
]},
"mark": {"type": "rect", "stroke": "#f2fbfb", "strokeWidth": 1.2},
"encoding": {
"x": {"field": "x0", "type": "quantitative", "scale": {"domain": [0, 400], "nice": false, "zero": false}, "axis": null},
"x2": {"field": "x1"},
"y": {"field": "y0", "type": "quantitative", "scale": {"domain": [0, 500], "nice": false, "zero": false, "reverse": true}, "axis": null},
"y2": {"field": "y1"},
"color": {"field": "g", "type": "nominal", "scale": {"domain": ["a","b","t","d","m1","m2","n1","n2"], "range": ["#92b9b6","#8dbbb8","#6c9d9c","#3f6767","#b0d1ce","#dcefee","#9cc2c1","#d5e9e8"]}, "legend": null}
}
},
{"data": {"name": "lab"}, "transform": [{"filter": "datum.k === 'xl'"}], "mark": {"type": "text", "fontSize": 18.5, "clip": true}, "encoding": {"x": {"field": "x", "type": "quantitative"}, "y": {"field": "y", "type": "quantitative"}, "text": {"field": "t"}}},
{"data": {"name": "lab"}, "transform": [{"filter": "datum.k === 'l'"}], "mark": {"type": "text", "fontSize": 13.5, "clip": true}, "encoding": {"x": {"field": "x", "type": "quantitative"}, "y": {"field": "y", "type": "quantitative"}, "text": {"field": "t"}}},
{"data": {"name": "lab"}, "transform": [{"filter": "datum.k === 'm'"}], "mark": {"type": "text", "fontSize": 12.5, "clip": true}, "encoding": {"x": {"field": "x", "type": "quantitative"}, "y": {"field": "y", "type": "quantitative"}, "text": {"field": "t"}}},
{"data": {"name": "lab"}, "transform": [{"filter": "datum.k === 's'"}], "mark": {"type": "text", "fontSize": 11, "clip": true}, "encoding": {"x": {"field": "x", "type": "quantitative"}, "y": {"field": "y", "type": "quantitative"}, "text": {"field": "t"}}},
{"data": {"name": "lab"}, "transform": [{"filter": "datum.k === 'r'"}], "mark": {"type": "text", "fontSize": 10, "clip": true}, "encoding": {"x": {"field": "x", "type": "quantitative"}, "y": {"field": "y", "type": "quantitative"}, "text": {"field": "t"}}},
{"data": {"name": "lab"}, "transform": [{"filter": "datum.k === 'xs'"}], "mark": {"type": "text", "fontSize": 8.5, "clip": true}, "encoding": {"x": {"field": "x", "type": "quantitative"}, "y": {"field": "y", "type": "quantitative"}, "text": {"field": "t"}}}
]
}
